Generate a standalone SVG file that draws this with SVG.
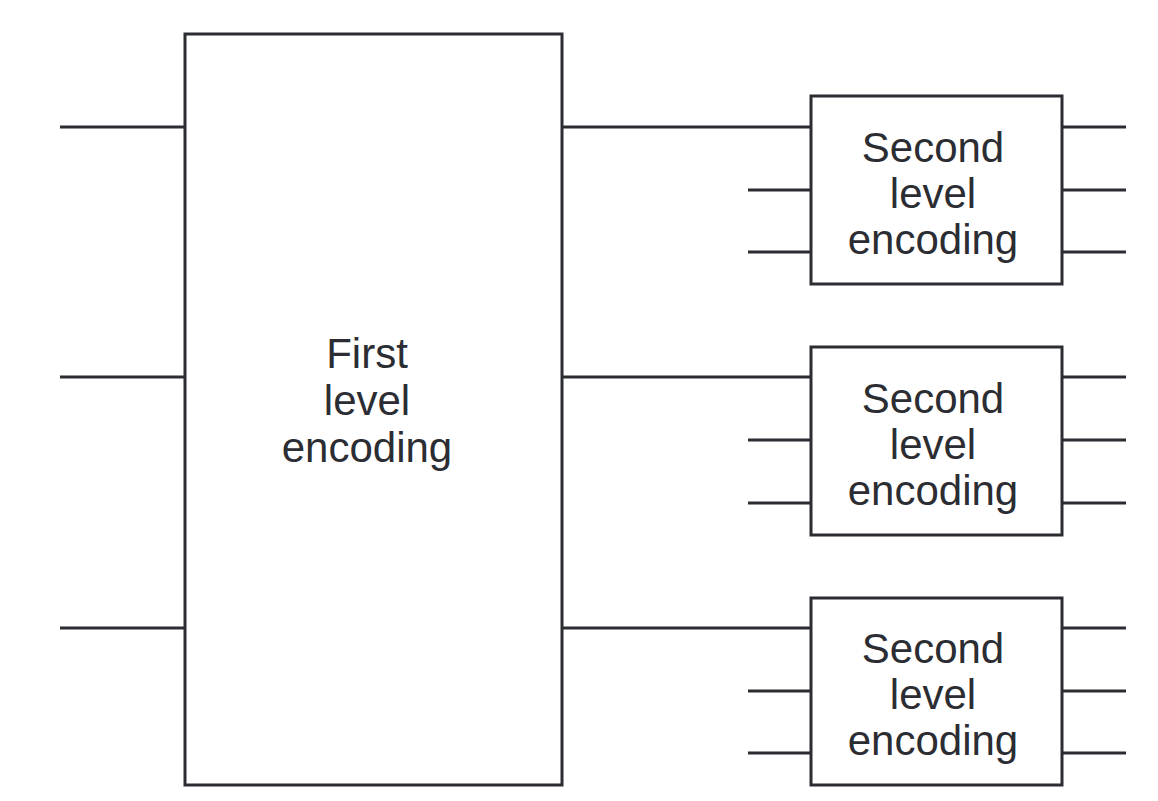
<svg xmlns="http://www.w3.org/2000/svg" width="1158" height="801" viewBox="0 0 1158 801">
<style>
.box{fill:#fff;stroke:#2b2d33;stroke-width:3}
.ln{stroke:#2b2d33;stroke-width:3;fill:none}
.t{font-family:"Liberation Sans",Arial,sans-serif;font-size:42px;fill:#2b2d33;text-anchor:middle}
</style>
<rect width="1158" height="801" fill="#fff"/>
<g id="connectors" class="ln">
<line x1="60" y1="127" x2="185" y2="127"/>
<line x1="60" y1="377" x2="185" y2="377"/>
<line x1="60" y1="628" x2="185" y2="628"/>
<line x1="562" y1="127" x2="811" y2="127"/>
<line x1="562" y1="377" x2="811" y2="377"/>
<line x1="562" y1="628" x2="811" y2="628"/>
<line x1="748" y1="190" x2="811" y2="190"/>
<line x1="748" y1="252" x2="811" y2="252"/>
<line x1="748" y1="440" x2="811" y2="440"/>
<line x1="748" y1="503" x2="811" y2="503"/>
<line x1="748" y1="691" x2="811" y2="691"/>
<line x1="748" y1="753" x2="811" y2="753"/>
<line x1="1062" y1="127" x2="1126" y2="127"/>
<line x1="1062" y1="190" x2="1126" y2="190"/>
<line x1="1062" y1="252" x2="1126" y2="252"/>
<line x1="1062" y1="377" x2="1126" y2="377"/>
<line x1="1062" y1="440" x2="1126" y2="440"/>
<line x1="1062" y1="503" x2="1126" y2="503"/>
<line x1="1062" y1="628" x2="1126" y2="628"/>
<line x1="1062" y1="691" x2="1126" y2="691"/>
<line x1="1062" y1="753" x2="1126" y2="753"/>
</g>
<g id="first">
<rect class="box" x="185" y="34" width="377" height="751"/>
<text class="t" x="367" y="368">First</text>
<text class="t" x="367" y="415">level</text>
<text class="t" x="367" y="462">encoding</text>
</g>
<g id="second1">
<rect class="box" x="811" y="96" width="251" height="188"/>
<text class="t" x="933" y="162">Second</text>
<text class="t" x="933" y="208">level</text>
<text class="t" x="933" y="254">encoding</text>
</g>
<g id="second2">
<rect class="box" x="811" y="347" width="251" height="188"/>
<text class="t" x="933" y="413">Second</text>
<text class="t" x="933" y="459">level</text>
<text class="t" x="933" y="505">encoding</text>
</g>
<g id="second3">
<rect class="box" x="811" y="598" width="251" height="187"/>
<text class="t" x="933" y="663">Second</text>
<text class="t" x="933" y="709">level</text>
<text class="t" x="933" y="755">encoding</text>
</g>
</svg>
